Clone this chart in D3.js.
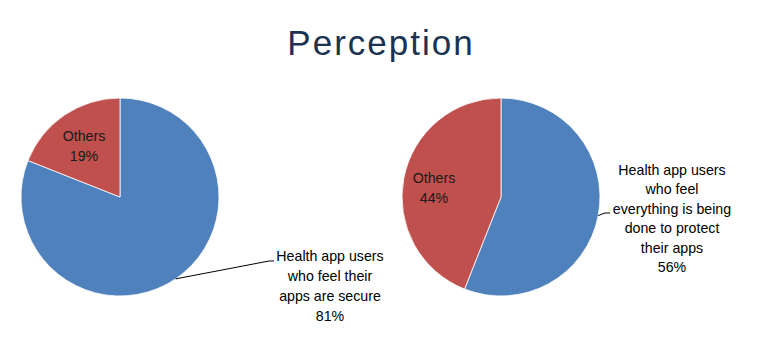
<!DOCTYPE html>
<html>
<head>
<meta charset="utf-8">
<script src="https://cdn.jsdelivr.net/npm/d3@7"></script>
<style>
  html, body { margin: 0; padding: 0; background: #fff; }
  svg { display: block; }
</style>
</head>
<body>
<svg id="chart" width="763" height="349"></svg>
<script>
// Two survey pies: share of health app users with each perception
const title = "Perception";
const categories = ["Health app users", "Others"];
const securePie = [81, 19];
const protectPie = [56, 44];
const secureLabel = ["Health app users", "who feel their", "apps are secure"];
const protectLabel = ["Health app users", "who feel", "everything is being", "done to protect", "their apps"];
const colors = ["#4f81bd", "#c0504d"];

const svg = d3.select("#chart");
const labelFont = "'Liberation Sans', Arial, sans-serif";
const labelSize = 14.2;

svg.append("text")
  .attr("x", 381).attr("y", 55)
  .attr("text-anchor", "middle")
  .attr("font-family", "'Liberation Sans', Arial, sans-serif")
  .attr("font-size", 35)
  .attr("letter-spacing", 2)
  .attr("fill", "#1a3352")
  .text(title);

const radius = 99;
const pie = d3.pie().sort(null).value(d => d);
const arc = d3.arc().innerRadius(0).outerRadius(radius);
const color = d3.scaleOrdinal().domain(categories).range(colors);

function drawPie(cx, cy, values, outside, othersPos, leader) {
  const g = svg.append("g").attr("transform", `translate(${cx},${cy})`);
  const arcs = pie(values);
  g.selectAll("path").data(arcs).join("path")
    .attr("d", arc)
    .attr("fill", (d, i) => color(categories[i]))
    .attr("stroke", "#fff")
    .attr("stroke-width", 0.8);

  // "Others" label inside its slice
  const oth = g.append("text")
    .attr("text-anchor", "middle")
    .attr("font-family", labelFont)
    .attr("font-size", labelSize)
    .attr("fill", "#1a1a1a");
  [categories[1], values[1] + "%"].forEach((t, i) => {
    oth.append("tspan").attr("x", othersPos[0]).attr("y", othersPos[1] + i * 20).text(t);
  });

  // leader line from the middle of the blue slice's rim to its outside label
  const a = arcs[0];
  const ang = (a.startAngle + a.endAngle) / 2;
  const ex = Math.sin(ang) * radius, ey = -Math.cos(ang) * radius;
  g.append("path")
    .attr("d", d3.line()([[ex, ey], leader.elbow, leader.end]))
    .attr("fill", "none")
    .attr("stroke", "#000")
    .attr("stroke-width", 1);

  const lab = g.append("text")
    .attr("text-anchor", "middle")
    .attr("font-family", labelFont)
    .attr("font-size", labelSize)
    .attr("fill", "#000");
  outside.lines.concat([values[0] + "%"]).forEach((t, i) => {
    lab.append("tspan").attr("x", outside.x).attr("y", outside.y + i * outside.step).text(t);
  });
}

drawPie(120, 197, securePie,
  { lines: secureLabel, x: 210, y: 64, step: 20 },
  [-36, -56],
  { elbow: [149, 64], end: [154, 64] });

drawPie(501, 197, protectPie,
  { lines: protectLabel, x: 171, y: -22, step: 19.4 },
  [-67, -14],
  { elbow: [104, 16], end: [109, 16] });
</script>
</body>
</html>
